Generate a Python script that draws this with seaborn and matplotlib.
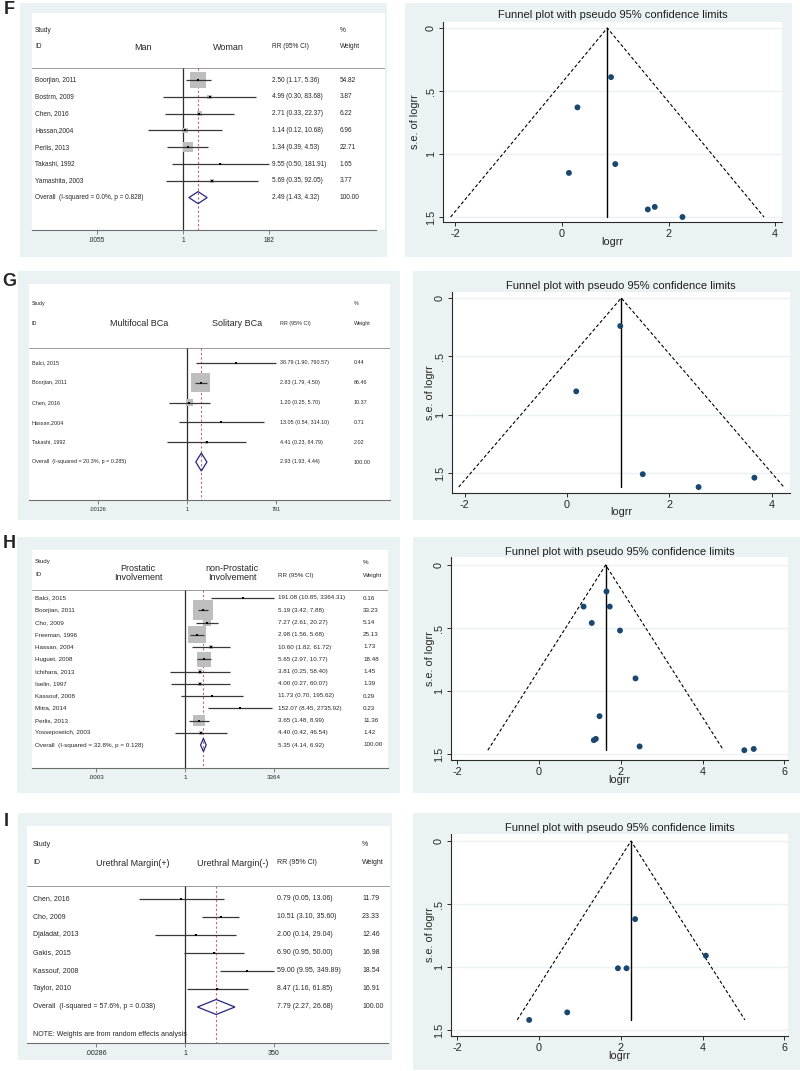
"""
Forest plots and funnel plots (panels F-I), redrawn with seaborn/matplotlib.
"""

import numpy as np
import matplotlib
matplotlib.use('Agg')
import matplotlib.pyplot as plt
from matplotlib.patches import Rectangle, Polygon
from matplotlib.ticker import NullLocator
from matplotlib.transforms import blended_transform_factory
import seaborn as sns

sns.set_theme(style='white')
plt.rcParams['font.family'] = ['Liberation Sans', 'DejaVu Sans']

W, H = 800, 1071
BG = '#EAF2F3'
NAVY = '#1A476F'

# ──────────────────────────────────────────────────────────────────────────────
# DATA
# ──────────────────────────────────────────────────────────────────────────────
# F: Man vs Woman
F_studies = ['Boorjian, 2011', 'Bostrm, 2009', 'Chen, 2016', 'Hassan,2004',
             'Perlis, 2013', 'Takashi, 1992', 'Yamashita, 2003']
F_rr     = [2.50, 4.99, 2.71, 1.14, 1.34, 9.55, 5.69]
F_lo     = [1.17, 0.30, 0.33, 0.12, 0.39, 0.50, 0.35]
F_hi     = [5.36, 83.68, 22.37, 10.68, 4.53, 181.91, 92.05]
F_weight = [54.82, 3.87, 6.22, 6.96, 22.71, 1.65, 3.77]
F_overall = [2.49, 1.43, 4.32]
F_overall_label = 'Overall  (I-squared = 0.0%, p = 0.828)'
F_groups = ['Man', 'Woman']
F_ticks = [0.0055, 1, 182]
F_tick_labels = ['.0055', '1', '182']
F_logrr = [0.92, 1.61, 1.00, 0.13, 0.29, 2.26, 1.74]
F_se    = [0.39, 1.44, 1.08, 1.15, 0.63, 1.50, 1.42]
F_center = 0.85

# G: Multifocal vs Solitary BCa
G_studies = ['Balci, 2015', 'Boorjian, 2011', 'Chen, 2016', 'Hassan,2004',
             'Takashi, 1992']
G_rr     = [38.79, 2.83, 1.20, 13.05, 4.41]
G_lo     = [1.90, 1.79, 0.25, 0.54, 0.23]
G_hi     = [790.57, 4.50, 5.70, 314.10, 84.79]
G_weight = [0.44, 86.46, 10.37, 0.71, 2.02]
G_overall = [2.93, 1.93, 4.44]
G_overall_label = 'Overall  (I-squared = 20.3%, p = 0.285)'
G_groups = ['Multifocal BCa', 'Solitary BCa']
G_ticks = [0.00126, 1, 791]
G_tick_labels = ['.00126', '1', '791']
G_logrr = [3.66, 1.04, 0.18, 2.57, 1.48]
G_se    = [1.54, 0.24, 0.80, 1.62, 1.51]
G_center = 1.06

# H: Prostatic vs non-Prostatic involvement
H_studies = ['Balci, 2015', 'Boorjian, 2011', 'Cho, 2009', 'Freeman, 1996',
             'Hassan, 2004', 'Huguet, 2008', 'Ichihara, 2013', 'Iselin, 1997',
             'Kassouf, 2008', 'Mitra, 2014', 'Perlis, 2013',
             'Yossepowitch, 2003']
H_rr     = [191.08, 5.19, 7.27, 2.98, 10.60, 5.65, 3.81, 4.00, 11.73, 152.07,
            3.65, 4.40]
H_lo     = [10.85, 3.42, 2.61, 1.56, 1.82, 2.97, 0.25, 0.27, 0.70, 8.45,
            1.48, 0.42]
H_hi     = [3364.31, 7.88, 20.27, 5.68, 61.72, 10.77, 58.40, 60.07, 195.62,
            2735.92, 8.99, 46.54]
H_weight = [0.16, 33.23, 5.14, 25.13, 1.73, 18.48, 1.45, 1.39, 0.29, 0.23,
            11.36, 1.42]
H_overall = [5.35, 4.14, 6.92]
H_overall_label = 'Overall  (I-squared = 32.8%, p = 0.128)'
H_groups = ['Prostatic\nInvolvement', 'non-Prostatic\nInvolvement']
H_ticks = [0.0003, 1, 3364]
H_tick_labels = ['.0003', '1', '3364']
H_logrr = [5.25, 1.65, 1.98, 1.09, 2.36, 1.73, 1.34, 1.39, 2.46, 5.02,
           1.29, 1.48]
H_se    = [1.46, 0.21, 0.52, 0.33, 0.90, 0.33, 1.39, 1.38, 1.44, 1.47,
           0.46, 1.20]
H_center = 1.63

# I: Urethral margin
I_studies = ['Chen, 2016', 'Cho, 2009', 'Djaladat, 2013', 'Gakis, 2015',
             'Kassouf, 2008', 'Taylor, 2010']
I_rr     = [0.79, 10.51, 2.00, 6.90, 59.00, 8.47]
I_lo     = [0.05, 3.10, 0.14, 0.95, 9.95, 1.16]
I_hi     = [13.06, 35.60, 29.04, 50.00, 349.89, 61.85]
I_weight = [11.79, 23.33, 12.46, 16.98, 18.54, 16.91]
I_overall = [7.79, 2.27, 26.68]
I_overall_label = 'Overall  (I-squared = 57.6%, p = 0.038)'
I_groups = ['Urethral Margin(+)', 'Urethral Margin(-)']
I_ticks = [0.00286, 1, 350]
I_tick_labels = ['.00286', '1', '350']
I_note = 'NOTE: Weights are from random effects analysis'
I_logrr = [-0.24, 2.35, 0.69, 1.93, 4.08, 2.14]
I_se    = [1.42, 0.62, 1.36, 1.01, 0.91, 1.01]
I_center = 2.25

FUNNEL_TITLE = 'Funnel plot with pseudo 95% confidence limits'

# ──────────────────────────────────────────────────────────────────────────────
# LAYOUT (pixel positions in the 800x1071 canvas)
# ──────────────────────────────────────────────────────────────────────────────
BOXES = [(20, 3, 387, 257), (405, 3, 792, 257),
         (18, 271, 400, 520), (413, 271, 800, 520),
         (17, 537, 400, 793), (413, 537, 800, 793),
         (18, 813, 392, 1060), (413, 813, 800, 1070)]

LETTERS = [('F', 9, 9), ('G', 9, 282), ('H', 9, 543), ('I', 6, 822)]

FOREST_LAY = {
    'F': dict(white=(32, 13, 385, 230), axis_r=376, one=183, mx=269, row0=80,
              step=16.8, sep=68, study_y=31, id_y=47, lab=35, rrx=272, wx=340,
              gx=(143, 228), gy=47, box=2.12, dh=6, fs=4.7),
    'G': dict(white=(29, 284, 390, 500), axis_r=390, one=187, mx=276,
              row0=363, step=19.8, sep=348, study_y=304, id_y=324, lab=32,
              rrx=280, wx=354, gx=(139, 237), gy=324, box=2.04, dh=9, fs=3.9),
    'H': dict(white=(32, 550, 388, 768), axis_r=388, one=185, mx=274,
              row0=598, step=12.25, sep=590, study_y=562, id_y=575, lab=35,
              rrx=278, wx=363, gx=(138, 232), gy=573, box=3.47, dh=6.5,
              fs=4.5),
    'I': dict(white=(27, 826, 390, 1043), axis_r=388, one=185, mx=274,
              row0=899, step=18, sep=886, study_y=845, id_y=863, lab=33,
              rrx=277, wx=362, gx=(133, 233), gy=863, box=0.6, dh=7.5,
              fs=5.0, note_y=1035),
}

FUNNEL_LAY = {
    'F': dict(white=(443, 22, 782, 222), x0=562, ux=53.3, y0=28, uy=126,
              xt=[-2, 0, 2, 4], title_y=15, xlab_y=242, ylab_x=415),
    'G': dict(white=(452, 292, 790, 493), x0=567, ux=51.2, y0=298, uy=116.7,
              xt=[-2, 0, 2, 4], title_y=286, xlab_y=512, ylab_x=430),
    'H': dict(white=(451, 557, 788, 760), x0=539, ux=40.9, y0=565, uy=126,
              xt=[-2, 0, 2, 4, 6], title_y=552, xlab_y=780, ylab_x=430),
    'I': dict(white=(451, 834, 788, 1036), x0=539, ux=40.9, y0=841, uy=126,
              xt=[-2, 0, 2, 4, 6], title_y=828, xlab_y=1056, ylab_x=430),
}

fig = plt.figure(figsize=(W / 100, H / 100), dpi=100)


def rect(l, t, r, b):
    return [l / W, 1 - b / H, (r - l) / W, (b - t) / H]


def fig_text(x, y, s, **kw):
    fig.text(x / W, 1 - y / H, s, **kw)


# ──────────────────────────────────────────────────────────────────────────────
# FOREST PLOT
# ──────────────────────────────────────────────────────────────────────────────
def forest(lay, studies, rr, lo, hi, wt, overall, ov_label, groups,
           ticks, tick_labels, note=None):
    L, T, R, B = lay['white']
    ax = fig.add_axes(rect(L, T, R, B))
    ax.set_facecolor('white')

    k = np.log(ticks[-1]) / (lay['mx'] - lay['one'])
    ax.set_xscale('log')
    ax.set_xlim(np.exp((L - lay['one']) * k), np.exp((R - lay['one']) * k))

    row = lambda y: (y - lay['row0']) / lay['step']
    ax.set_ylim(row(B), row(T))

    n = len(studies)
    rows = np.arange(n)
    fs = lay['fs']

    # reference lines
    ax.axhline(row(lay['sep']), color='#8C8C8C', lw=0.6)
    ax.vlines(1, row(lay['sep']), row(B), color='#2E2E2E', lw=0.9)
    ax.vlines(overall[0], row(lay['sep']), row(B), color='#C8607A', lw=0.8,
              linestyles=(0, (2, 2)))

    # study boxes, CIs and point estimates
    sizes = (lay['box'] * np.sqrt(wt) * 0.72) ** 2
    ax.scatter(rr, rows, marker='s', s=sizes, color='#BEBEBE',
               linewidths=0, zorder=2)
    ax.hlines(rows, lo, hi, color='#383838', lw=0.9, zorder=3)
    ax.scatter(rr, rows, marker='s', s=2.5, color='black', linewidths=0,
               zorder=4)

    # overall diamond
    h = lay['dh'] / lay['step']
    ax.add_patch(Polygon([(overall[1], n), (overall[0], n - h),
                          (overall[2], n), (overall[0], n + h)],
                         closed=True, facecolor='none', edgecolor='#262680',
                         lw=0.9, zorder=5))

    # text columns
    tr = blended_transform_factory(ax.transAxes, ax.transData)
    fx = lambda px: (px - L) / (R - L)
    for i, s in enumerate(studies):
        ax.text(fx(lay['lab']), i, s, transform=tr, va='center', fontsize=fs)
        ax.text(fx(lay['rrx']), i, f'{rr[i]:.2f} ({lo[i]:.2f}, {hi[i]:.2f})',
                transform=tr, va='center', fontsize=fs)
        ax.text(fx(lay['wx']), i, f'{wt[i]:.2f}', transform=tr, va='center',
                fontsize=fs)
    ax.text(fx(lay['lab']), n, ov_label, transform=tr, va='center',
            fontsize=fs)
    ax.text(fx(lay['rrx']), n,
            f'{overall[0]:.2f} ({overall[1]:.2f}, {overall[2]:.2f})',
            transform=tr, va='center', fontsize=fs)
    ax.text(fx(lay['wx']), n, '100.00', transform=tr, va='center',
            fontsize=fs)

    # header
    for s, px, py in [('Study', lay['lab'], lay['study_y']),
                      ('ID', lay['lab'], lay['id_y']),
                      ('RR (95% CI)', lay['rrx'], lay['id_y']),
                      ('%', lay['wx'], lay['study_y']),
                      ('Weight', lay['wx'], lay['id_y'])]:
        ax.text(fx(px), row(py), s, transform=tr, va='center', fontsize=fs)
    for s, px in zip(groups, lay['gx']):
        ax.text(fx(px), row(lay['gy']), s, transform=tr, va='center',
                ha='center', fontsize=6.5, linespacing=0.95)
    if note:
        ax.text(fx(lay['lab']), row(lay['note_y']), note, transform=tr,
                va='center', fontsize=fs)

    # axis
    for side in ['top', 'left', 'right']:
        ax.spines[side].set_visible(False)
    ax.spines['bottom'].set_color('#6E6E6E')
    ax.spines['bottom'].set_linewidth(0.8)
    ax.spines['bottom'].set_bounds(ax.get_xlim()[0],
                                   np.exp((lay['axis_r'] - lay['one']) * k))
    ax.set_xticks(ticks)
    ax.set_xticklabels(tick_labels)
    ax.xaxis.set_minor_locator(NullLocator())
    ax.set_yticks([])
    ax.tick_params(axis='x', bottom=True, direction='out', length=3,
                   width=0.6, color='#6E6E6E', labelsize=fs, pad=2)
    return ax


# ──────────────────────────────────────────────────────────────────────────────
# FUNNEL PLOT
# ──────────────────────────────────────────────────────────────────────────────
def funnel(lay, logrr, se, center):
    L, T, R, B = lay['white']
    ax = fig.add_axes(rect(L, T, R, B))
    ax.set_facecolor('white')
    ax.set_xlim((L - lay['x0']) / lay['ux'], (R - lay['x0']) / lay['ux'])
    ax.set_ylim((B - lay['y0']) / lay['uy'], (T - lay['y0']) / lay['uy'])

    yt = [0, 0.5, 1, 1.5]
    for v in yt:
        ax.axhline(v, color=BG, lw=1, zorder=0)

    se_max = max(se)
    ax.plot([center - 1.96 * se_max, center, center + 1.96 * se_max],
            [se_max, 0, se_max], color='black', lw=0.8,
            linestyle=(0, (3, 2)), zorder=2)
    ax.plot([center, center], [0, se_max], color='black', lw=1, zorder=2)

    sns.scatterplot(x=logrr, y=se, ax=ax, color=NAVY, s=18,
                    edgecolor='none', zorder=3, legend=False)

    ax.set_xticks(lay['xt'])
    ax.set_xticklabels([str(v) for v in lay['xt']])
    ax.set_yticks(yt)
    ax.set_yticklabels(['0', '.5', '1', '1.5'], rotation=90, va='center')
    ax.set_xlabel('')
    ax.set_ylabel('')
    for side in ['top', 'right']:
        ax.spines[side].set_visible(False)
    for side in ['left', 'bottom']:
        ax.spines[side].set_color('#2A2A2A')
        ax.spines[side].set_linewidth(0.8)
    ax.tick_params(bottom=True, left=True, direction='out', length=3,
                   width=0.7, color='#2A2A2A', labelsize=7.8, pad=2)

    cx = (L + R) / 2
    fig_text(cx, lay['title_y'], FUNNEL_TITLE, ha='center', va='center',
             fontsize=8, color='#1E1E1E')
    fig_text(cx, lay['xlab_y'], 'logrr', ha='center', va='center',
             fontsize=7.8)
    fig_text(lay['ylab_x'], (T + B) / 2, 's.e. of logrr', ha='center',
             va='center', rotation=90, fontsize=7.8)
    return ax


# ──────────────────────────────────────────────────────────────────────────────
for l, t, r, b in BOXES:
    fig.add_artist(Rectangle((l / W, 1 - b / H), (r - l) / W, (b - t) / H,
                             transform=fig.transFigure, facecolor=BG,
                             edgecolor='none', zorder=0))

for s, x, y in LETTERS:
    fig_text(x, y, s, ha='center', va='center', fontsize=13,
             fontweight='bold')

forest(FOREST_LAY['F'], F_studies, F_rr, F_lo, F_hi, F_weight, F_overall,
       F_overall_label, F_groups, F_ticks, F_tick_labels)
forest(FOREST_LAY['G'], G_studies, G_rr, G_lo, G_hi, G_weight, G_overall,
       G_overall_label, G_groups, G_ticks, G_tick_labels)
forest(FOREST_LAY['H'], H_studies, H_rr, H_lo, H_hi, H_weight, H_overall,
       H_overall_label, H_groups, H_ticks, H_tick_labels)
forest(FOREST_LAY['I'], I_studies, I_rr, I_lo, I_hi, I_weight, I_overall,
       I_overall_label, I_groups, I_ticks, I_tick_labels, note=I_note)

funnel(FUNNEL_LAY['F'], F_logrr, F_se, F_center)
funnel(FUNNEL_LAY['G'], G_logrr, G_se, G_center)
funnel(FUNNEL_LAY['H'], H_logrr, H_se, H_center)
funnel(FUNNEL_LAY['I'], I_logrr, I_se, I_center)

fig.savefig('out.png', dpi=100)
plt.close(fig)
